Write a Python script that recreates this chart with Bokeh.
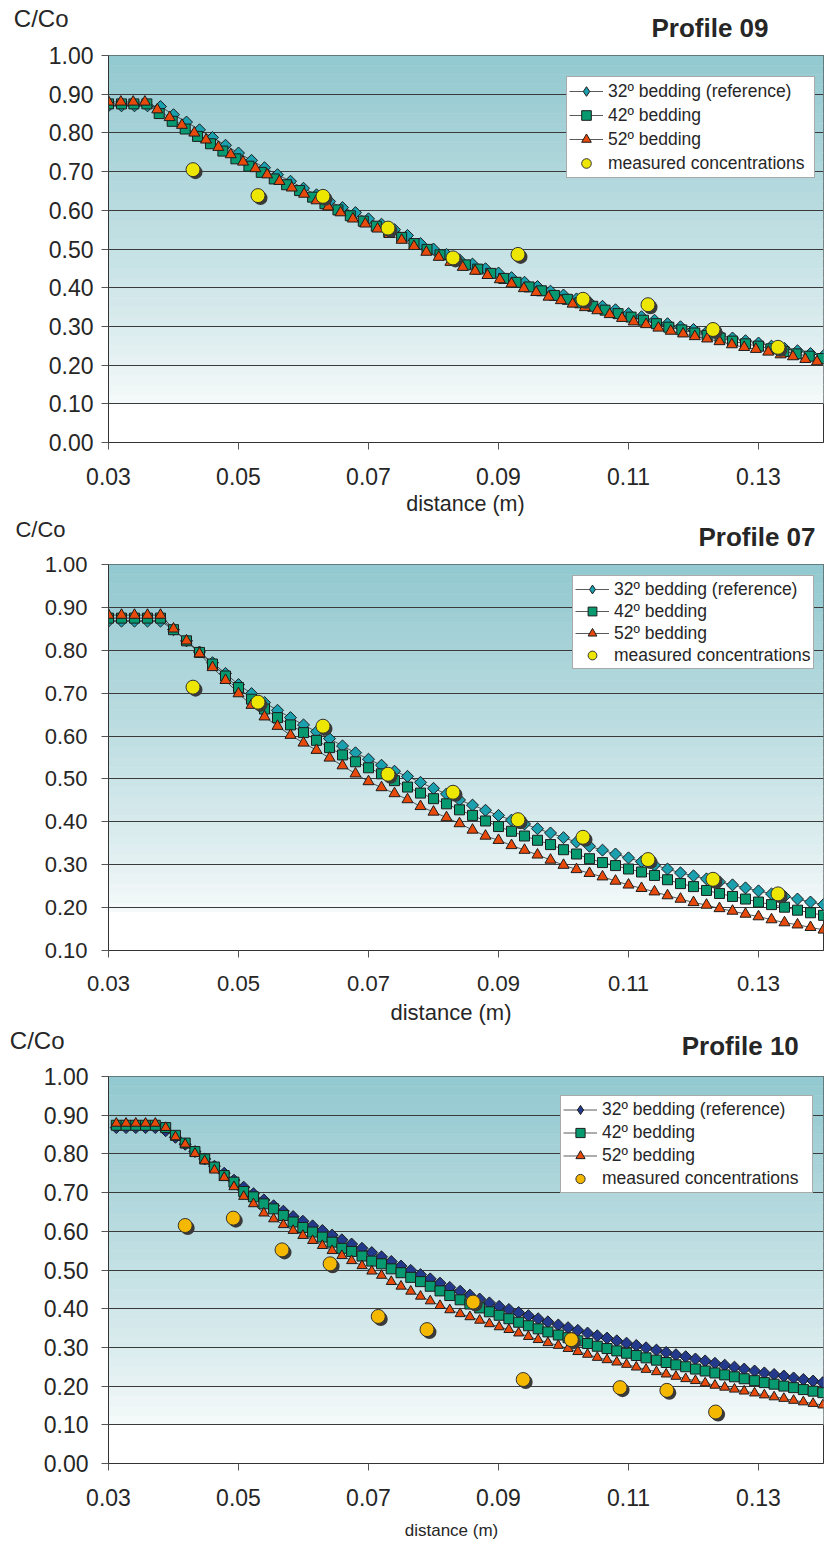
import numpy as np
from bokeh.plotting import figure
from bokeh.layouts import column
from bokeh.models import (ColumnDataSource, FixedTicker, PrintfTickFormatter,
                          Legend, LegendItem, Range1d)
from bokeh.core.properties import value
from bokeh.embed import file_html
from bokeh.resources import INLINE

FONT = "Liberation Sans"
TEXT = "#262626"
PAGE_W = 829
FRAME_LEFT, FRAME_RIGHT_GAP = 108, 6

# ---------------------------------------------------------------- data
x_ticks = [0.03, 0.05, 0.07, 0.09, 0.11, 0.13]

# 2 mm sampling grid (profile 09 reference run, all of profile 07)
dist_2mm = [0.030, 0.032, 0.034, 0.036, 0.038, 0.040, 0.042, 0.044, 0.046, 0.048,
            0.050, 0.052, 0.054, 0.056, 0.058, 0.060, 0.062, 0.064, 0.066, 0.068,
            0.070, 0.072, 0.074, 0.076, 0.078, 0.080, 0.082, 0.084, 0.086, 0.088,
            0.090, 0.092, 0.094, 0.096, 0.098, 0.100, 0.102, 0.104, 0.106, 0.108,
            0.110, 0.112, 0.114, 0.116, 0.118, 0.120, 0.122, 0.124, 0.126, 0.128,
            0.130, 0.132, 0.134, 0.136, 0.138, 0.140]

# Profile 09
p09_dist_32 = dist_2mm
p09_c_32 = [0.870, 0.870, 0.870, 0.870, 0.868, 0.847, 0.828, 0.808, 0.788, 0.768,
            0.748, 0.729, 0.710, 0.692, 0.675, 0.657, 0.640, 0.623, 0.607, 0.594,
            0.578, 0.564, 0.550, 0.535, 0.514, 0.500, 0.486, 0.472, 0.461, 0.449,
            0.438, 0.426, 0.414, 0.403, 0.391, 0.381, 0.371, 0.362, 0.352, 0.343,
            0.333, 0.325, 0.316, 0.307, 0.299, 0.292, 0.285, 0.278, 0.270, 0.263,
            0.257, 0.249, 0.243, 0.237, 0.230, 0.224]
p09_dist_42 = [0.0300, 0.0320, 0.0339, 0.0359, 0.0378, 0.0398, 0.0418, 0.0437, 0.0457, 0.0476,
               0.0496, 0.0516, 0.0535, 0.0555, 0.0574, 0.0594, 0.0614, 0.0633, 0.0653, 0.0672,
               0.0692, 0.0712, 0.0731, 0.0751, 0.0770, 0.0790, 0.0810, 0.0829, 0.0849, 0.0868,
               0.0888, 0.0908, 0.0927, 0.0947, 0.0966, 0.0986, 0.1006, 0.1025, 0.1045, 0.1064,
               0.1084, 0.1104, 0.1123, 0.1143, 0.1162, 0.1182, 0.1202, 0.1221, 0.1241, 0.1260,
               0.1280, 0.1300, 0.1319, 0.1339, 0.1358, 0.1378, 0.1398]
p09_c_42 = [0.875, 0.875, 0.875, 0.875, 0.850, 0.830, 0.810, 0.791, 0.772, 0.753,
            0.733, 0.714, 0.698, 0.681, 0.666, 0.651, 0.634, 0.617, 0.601, 0.586,
            0.572, 0.559, 0.545, 0.530, 0.514, 0.499, 0.485, 0.472, 0.459, 0.448,
            0.437, 0.424, 0.414, 0.402, 0.392, 0.380, 0.370, 0.361, 0.352, 0.342,
            0.333, 0.324, 0.316, 0.307, 0.298, 0.291, 0.283, 0.277, 0.270, 0.262,
            0.255, 0.249, 0.242, 0.235, 0.229, 0.223, 0.217]
p09_dist_52 = [0.0300, 0.0319, 0.0338, 0.0356, 0.0375, 0.0394, 0.0413, 0.0432, 0.0450, 0.0469,
               0.0488, 0.0507, 0.0526, 0.0544, 0.0563, 0.0582, 0.0601, 0.0620, 0.0638, 0.0657,
               0.0676, 0.0695, 0.0714, 0.0732, 0.0751, 0.0770, 0.0789, 0.0808, 0.0826, 0.0845,
               0.0864, 0.0883, 0.0902, 0.0920, 0.0939, 0.0958, 0.0977, 0.0996, 0.1014, 0.1033,
               0.1052, 0.1071, 0.1090, 0.1108, 0.1127, 0.1146, 0.1165, 0.1184, 0.1202, 0.1221,
               0.1240, 0.1259, 0.1278, 0.1296, 0.1315, 0.1334, 0.1353, 0.1372, 0.1390]
p09_c_52 = [0.880, 0.880, 0.880, 0.880, 0.860, 0.840, 0.820, 0.800, 0.782, 0.763,
            0.744, 0.725, 0.708, 0.692, 0.675, 0.658, 0.642, 0.625, 0.609, 0.594,
            0.578, 0.565, 0.552, 0.538, 0.523, 0.507, 0.492, 0.479, 0.466, 0.453,
            0.443, 0.432, 0.421, 0.410, 0.398, 0.388, 0.376, 0.367, 0.358, 0.349,
            0.341, 0.331, 0.321, 0.312, 0.305, 0.296, 0.288, 0.281, 0.274, 0.268,
            0.261, 0.253, 0.246, 0.241, 0.234, 0.227, 0.222, 0.215, 0.209]
p09_meas_dist = [0.043, 0.053, 0.063, 0.073, 0.083, 0.093, 0.103, 0.113, 0.123, 0.133]
p09_meas_c = [0.705, 0.638, 0.636, 0.554, 0.477, 0.486, 0.370, 0.356, 0.292, 0.246]

# Profile 07
p07_dist = dist_2mm
p07_c_32 = [0.868, 0.868, 0.868, 0.868, 0.868, 0.848, 0.822, 0.796, 0.771, 0.746,
            0.720, 0.699, 0.678, 0.660, 0.643, 0.626, 0.610, 0.594, 0.577, 0.561,
            0.546, 0.532, 0.518, 0.506, 0.492, 0.478, 0.465, 0.451, 0.439, 0.427,
            0.415, 0.404, 0.395, 0.384, 0.374, 0.363, 0.353, 0.343, 0.334, 0.325,
            0.316, 0.307, 0.299, 0.290, 0.281, 0.274, 0.267, 0.260, 0.253, 0.246,
            0.239, 0.232, 0.226, 0.220, 0.213, 0.207]
p07_c_42 = [0.875, 0.875, 0.875, 0.875, 0.875, 0.848, 0.822, 0.795, 0.768, 0.740,
            0.713, 0.686, 0.663, 0.643, 0.626, 0.608, 0.590, 0.573, 0.556, 0.540,
            0.526, 0.512, 0.496, 0.481, 0.467, 0.454, 0.442, 0.428, 0.415, 0.402,
            0.389, 0.378, 0.367, 0.357, 0.347, 0.335, 0.325, 0.314, 0.305, 0.298,
            0.290, 0.283, 0.275, 0.265, 0.256, 0.249, 0.240, 0.233, 0.226, 0.220,
            0.213, 0.207, 0.201, 0.194, 0.188, 0.182]
p07_c_52 = [0.882, 0.882, 0.882, 0.882, 0.882, 0.850, 0.822, 0.792, 0.760, 0.730,
            0.699, 0.672, 0.645, 0.623, 0.602, 0.584, 0.567, 0.549, 0.531, 0.512,
            0.494, 0.480, 0.466, 0.452, 0.436, 0.423, 0.410, 0.396, 0.381, 0.367,
            0.357, 0.345, 0.334, 0.323, 0.311, 0.299, 0.289, 0.280, 0.272, 0.262,
            0.253, 0.245, 0.237, 0.228, 0.220, 0.212, 0.206, 0.198, 0.192, 0.185,
            0.179, 0.172, 0.165, 0.160, 0.154, 0.148]
p07_meas_dist = [0.043, 0.053, 0.063, 0.073, 0.083, 0.093, 0.103, 0.113, 0.123, 0.133]
p07_meas_c = [0.714, 0.679, 0.623, 0.511, 0.469, 0.405, 0.364, 0.312, 0.266, 0.232]

# Profile 10 (finer sampling)
p10_dist = [0.0312, 0.0327, 0.0342, 0.0357, 0.0372, 0.0388, 0.0403, 0.0418, 0.0433, 0.0448,
            0.0463, 0.0478, 0.0493, 0.0508, 0.0523, 0.0539, 0.0554, 0.0569, 0.0584, 0.0599,
            0.0614, 0.0629, 0.0644, 0.0659, 0.0674, 0.0690, 0.0705, 0.0720, 0.0735, 0.0750,
            0.0765, 0.0780, 0.0795, 0.0810, 0.0825, 0.0841, 0.0856, 0.0871, 0.0886, 0.0901,
            0.0916, 0.0931, 0.0946, 0.0961, 0.0976, 0.0992, 0.1007, 0.1022, 0.1037, 0.1052,
            0.1067, 0.1082, 0.1097, 0.1112, 0.1127, 0.1143, 0.1158, 0.1173, 0.1188, 0.1203,
            0.1218, 0.1233, 0.1248, 0.1263, 0.1278, 0.1294, 0.1309, 0.1324, 0.1339, 0.1354,
            0.1369, 0.1384, 0.1399]
p10_c_32 = [0.868, 0.868, 0.868, 0.868, 0.868, 0.860, 0.843, 0.825, 0.806, 0.787,
            0.768, 0.750, 0.732, 0.714, 0.697, 0.681, 0.666, 0.652, 0.638, 0.626,
            0.614, 0.602, 0.590, 0.578, 0.567, 0.556, 0.545, 0.534, 0.522, 0.510,
            0.499, 0.488, 0.477, 0.466, 0.455, 0.445, 0.435, 0.425, 0.415, 0.406,
            0.398, 0.390, 0.382, 0.374, 0.366, 0.358, 0.351, 0.344, 0.337, 0.330,
            0.324, 0.317, 0.311, 0.305, 0.299, 0.293, 0.287, 0.281, 0.276, 0.270,
            0.265, 0.259, 0.254, 0.249, 0.244, 0.239, 0.234, 0.230, 0.226, 0.221,
            0.217, 0.213, 0.209]
p10_c_42 = [0.874, 0.874, 0.874, 0.874, 0.874, 0.868, 0.848, 0.828, 0.806, 0.787,
            0.766, 0.744, 0.727, 0.703, 0.689, 0.671, 0.658, 0.641, 0.624, 0.610,
            0.598, 0.585, 0.572, 0.556, 0.548, 0.536, 0.523, 0.516, 0.503, 0.493,
            0.481, 0.470, 0.458, 0.446, 0.434, 0.423, 0.412, 0.402, 0.392, 0.383,
            0.374, 0.365, 0.356, 0.348, 0.340, 0.332, 0.325, 0.317, 0.310, 0.303,
            0.297, 0.291, 0.285, 0.279, 0.273, 0.267, 0.261, 0.255, 0.250, 0.244,
            0.239, 0.234, 0.229, 0.224, 0.219, 0.214, 0.209, 0.205, 0.200, 0.196,
            0.191, 0.187, 0.183]
p10_c_52 = [0.879, 0.879, 0.879, 0.879, 0.879, 0.868, 0.844, 0.825, 0.801, 0.782,
            0.758, 0.739, 0.715, 0.690, 0.671, 0.647, 0.632, 0.617, 0.602, 0.589,
            0.576, 0.563, 0.550, 0.537, 0.524, 0.511, 0.497, 0.486, 0.470, 0.458,
            0.445, 0.432, 0.420, 0.408, 0.397, 0.387, 0.379, 0.370, 0.361, 0.353,
            0.346, 0.337, 0.328, 0.320, 0.312, 0.305, 0.297, 0.289, 0.282, 0.274,
            0.268, 0.262, 0.256, 0.249, 0.243, 0.237, 0.231, 0.225, 0.219, 0.214,
            0.208, 0.202, 0.197, 0.192, 0.187, 0.182, 0.177, 0.172, 0.168, 0.163,
            0.159, 0.155, 0.151]
p10_meas_dist = [0.0418, 0.0492, 0.0567, 0.0641, 0.0715, 0.0790, 0.0861, 0.0938,
                 0.1012, 0.1087, 0.1159, 0.1234]
p10_meas_c = [0.615, 0.634, 0.552, 0.516, 0.380, 0.346, 0.417, 0.217,
              0.320, 0.196, 0.189, 0.133]

series_labels = ["32º bedding (reference)", "42º bedding", "52º bedding",
                 "measured concentrations"]

# ---------------------------------------------------------------- styling
TEAL = "#1aa0ae"
NAVY = "#233a8c"
GREEN = "#079a70"
ORANGE = "#e84a0c"
YELLOW = "#ece600"
AMBER = "#f4b800"
OUTLINE = "#1c1c1c"

GRAD_TOP = (146, 200, 207)
GRAD_BOTTOM = (247, 250, 250)


def blend(c0, c1, t):
    return "#%02x%02x%02x" % tuple(int(round(a + (b - a) * t)) for a, b in zip(c0, c1))


def caption_strip(height, page_top, cco, texts):
    """Caption band between charts: the y-axis carries the 'C/Co' quantity
    label, the rest are text glyphs positioned in page pixels."""
    s = figure(width=PAGE_W, height=height, title=None,
               x_range=Range1d(FRAME_LEFT, PAGE_W - FRAME_RIGHT_GAP),
               y_range=Range1d(height, 0), x_axis_type=None,
               output_backend="svg", toolbar_location=None,
               min_border_left=FRAME_LEFT, min_border_right=FRAME_RIGHT_GAP,
               min_border_top=0, min_border_bottom=0, outline_line_color=None)
    s.ygrid.visible = False
    s.background_fill_color = "white"
    s.border_fill_color = "white"
    ya = s.yaxis[0]
    if cco is None:
        ya.visible = False
    else:
        cy, right_edge, size = cco
        tick = int(round(cy - page_top))
        ya.ticker = FixedTicker(ticks=[tick])
        ya.major_label_overrides = {tick: "C/Co"}
        ya.major_label_text_font = FONT
        ya.major_label_text_font_size = size
        ya.major_label_text_color = TEXT
        ya.major_label_standoff = FRAME_LEFT - right_edge
        ya.major_tick_in = 0
        ya.major_tick_out = 0
        ya.major_tick_line_color = None
        ya.minor_tick_line_color = None
        ya.axis_line_color = None
    for txt, px, py, size, align, style in texts:
        s.text(x=[px], y=[py - page_top], text=[txt], text_font=value(FONT),
               text_font_size=value(size), text_color=TEXT, text_align=align,
               text_baseline="middle", text_font_style=style)
    return s


def build_panel(cfg):
    top, bottom = cfg["border"]
    fig_h = cfg["height"]
    y_lo = cfg["y_lo"]
    frame_w = PAGE_W - FRAME_LEFT - FRAME_RIGHT_GAP
    frame_h = fig_h - top - bottom
    frame_bottom_page = cfg["page_top"] + top + frame_h

    p = figure(width=PAGE_W, height=fig_h, title=None,
               x_range=Range1d(0.03, 0.14), y_range=Range1d(y_lo, 1.0),
               output_backend="svg", toolbar_location=None,
               min_border_left=FRAME_LEFT, min_border_right=FRAME_RIGHT_GAP,
               min_border_top=top, min_border_bottom=bottom)
    p.background_fill_color = "white"
    p.border_fill_color = "white"
    p.outline_line_color = "#333333"
    p.outline_line_width = 1

    # stepped vertical colour wash behind the data
    n = 36
    edges = np.linspace(cfg["grad_lo"], 1.0, n + 1)
    cols = [blend(GRAD_BOTTOM, GRAD_TOP, ((k + 0.5) / n) ** 0.85) for k in range(n)]
    band_src = ColumnDataSource(dict(b=edges[:-1], t=edges[1:], c=cols))
    p.quad(left=0.03, right=0.14, bottom="b", top="t", fill_color="c",
           line_color="c", line_width=0.6, source=band_src, level="image")

    y_ticks = [round(v, 2) for v in np.arange(y_lo, 1.0001, 0.1)]

    p.xgrid.visible = False
    p.ygrid.ticker = FixedTicker(ticks=y_ticks)
    p.ygrid.grid_line_color = "#3a3a3a"
    p.ygrid.grid_line_width = 1

    xa = p.xaxis[0]
    xa.ticker = FixedTicker(ticks=x_ticks)
    xa.formatter = PrintfTickFormatter(format="%.2f")
    xa.major_label_standoff = cfg["x_standoff"]
    ya = p.yaxis[0]
    ya.ticker = FixedTicker(ticks=y_ticks)
    ya.formatter = PrintfTickFormatter(format="%.2f")
    ya.major_label_standoff = cfg["y_standoff"]
    for ax in (xa, ya):
        ax.major_label_text_font = FONT
        ax.major_label_text_font_size = cfg["tick_font"]
        ax.major_label_text_color = TEXT
        ax.major_tick_in = 0
        ax.major_tick_out = 7
        ax.major_tick_line_color = "#555555"
        ax.minor_tick_line_color = None
        ax.axis_line_color = "#333333"

    # model curves: thin connecting lines, then markers on top
    line_rs, mark_rs = [], []
    for dist, conc, *_ in cfg["models"]:
        line_rs.append(p.line(dist, conc, line_color="#303030", line_width=0.8))
    for dist, conc, marker, fill, size, angle in cfg["models"]:
        mark_rs.append(p.scatter(dist, conc, marker=marker, size=size, angle=angle,
                                 fill_color=fill, line_color=OUTLINE, line_width=1))
    # upright diamond swatch for the legend (the plotted diamonds are rotated squares)
    d32, c32, _, fill32, _, _ = cfg["models"][0]
    diamond_key = p.scatter(d32, c32, marker="diamond", size=12, fill_color=fill32,
                            line_color=OUTLINE, line_width=1, visible=False)

    # measured points with a drop shadow
    mx, my, mcol = cfg["measured"]
    dx = 2.5 * 0.11 / frame_w
    dy = 2.5 * (1.0 - y_lo) / frame_h
    p.scatter([v + dx for v in mx], [v - dy for v in my], marker="circle", size=14,
              fill_color="#3a3a3a", line_color=None)
    meas_r = p.scatter(mx, my, marker="circle", size=14, fill_color=mcol,
                       line_color="#333333", line_width=1)

    items = [LegendItem(label=series_labels[0], renderers=[line_rs[0], diamond_key]),
             LegendItem(label=series_labels[1], renderers=[line_rs[1], mark_rs[1]]),
             LegendItem(label=series_labels[2], renderers=[line_rs[2], mark_rs[2]]),
             LegendItem(label=series_labels[3], renderers=[meas_r])]
    lx, ly_top, row, label_w = cfg["legend"]
    pad = 2
    leg_h = 4 * row + 2 * pad
    legend = Legend(items=items,
                    location=(lx - FRAME_LEFT, frame_bottom_page - (ly_top + leg_h)),
                    label_text_font=FONT, label_text_font_size="17.5px",
                    label_text_color=TEXT, border_line_color="#555555",
                    border_line_width=1, background_fill_color="white",
                    background_fill_alpha=1.0, padding=pad, spacing=0, margin=0,
                    glyph_width=34, glyph_height=row, label_height=row,
                    label_width=label_w, label_standoff=5,
                    inactive_fill_alpha=0.0)
    p.add_layout(legend)
    return p


panels = [
    dict(page_top=42, height=449, border=(13, 49),
         y_lo=0.0, grad_lo=0.10, tick_font="23px", x_standoff=18, y_standoff=8,
         models=[(p09_dist_32, p09_c_32, "square", TEAL, 8.5, np.pi / 4),
                 (p09_dist_42, p09_c_42, "square", GREEN, 10, 0.0),
                 (p09_dist_52, p09_c_52, "triangle", ORANGE, 11, 0.0)],
         measured=(p09_meas_dist, p09_meas_c, YELLOW),
         legend=(566, 78, 24, 204)),
    dict(page_top=551, height=447, border=(13, 48),
         y_lo=0.1, grad_lo=0.19, tick_font="22px", x_standoff=18, y_standoff=14,
         models=[(p07_dist, p07_c_32, "square", TEAL, 8.5, np.pi / 4),
                 (p07_dist, p07_c_42, "square", GREEN, 10, 0.0),
                 (p07_dist, p07_c_52, "triangle", ORANGE, 11, 0.0)],
         measured=(p07_meas_dist, p07_meas_c, YELLOW),
         legend=(572, 577, 22, 196)),
    dict(page_top=1062, height=450, border=(14, 49),
         y_lo=0.0, grad_lo=0.10, tick_font="23px", x_standoff=18, y_standoff=13,
         models=[(p10_dist, p10_c_32, "square", NAVY, 8.5, np.pi / 4),
                 (p10_dist, p10_c_42, "square", GREEN, 10, 0.0),
                 (p10_dist, p10_c_52, "triangle", ORANGE, 10, 0.0)],
         measured=(p10_meas_dist, p10_meas_c, AMBER),
         legend=(560, 1097, 23, 208)),
]

# (height, page top, C/Co (centre y, right edge, size), other captions)
strips = [
    (42, 0, (18, 68, "24px"),
     [("Profile 09", 768, 27.3, "26px", "right", "bold")]),
    (60, 491, (529, 65, "22px"),
     [("distance (m)", 465, 503.2, "21.5px", "center", "normal"),
      ("Profile 07", 815, 536.3, "26px", "right", "bold")]),
    (64, 998, (1040, 64, "24px"),
     [("distance (m)", 450.5, 1012, "22px", "center", "normal"),
      ("Profile 10", 798.3, 1045.8, "26px", "right", "bold")]),
    (32, 1512, None,
     [("distance (m)", 451, 1529.5, "17px", "center", "normal")]),
]

parts = []
for k in range(3):
    parts.append(caption_strip(*strips[k]))
    parts.append(build_panel(panels[k]))
parts.append(caption_strip(*strips[3]))

layout = column(*parts, spacing=0)
open("out.html", "w").write(file_html(layout, INLINE))
